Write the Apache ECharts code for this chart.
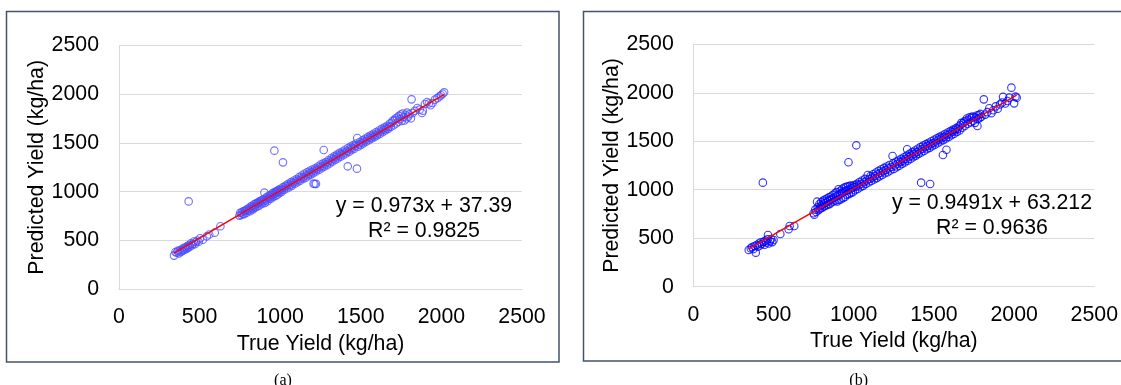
<!DOCTYPE html>
<html>
<head>
<meta charset="utf-8">
<script src="https://cdn.jsdelivr.net/npm/echarts@6/dist/echarts.min.js"></script>
<style>
  html, body { margin: 0; padding: 0; background: #ffffff; }
  #chart { width: 1121px; height: 385px; }
</style>
</head>
<body>
<div id="chart"></div>
<script>
// Panel (a): [true yield, predicted yield] in kg/ha
const yieldPairsA = [
  [341,343],[350,380],[358,372],[365,392],[371,366],[377,398],[383,381],[389,404],[394,392],[399,421],
  [404,400],[409,418],[414,429],[419,410],[424,441],[429,425],[435,452],[440,436],[446,470],[452,448],
  [458,462],[465,488],[471,460],[478,481],[486,498],[495,486],[503,521],[520,506],[545,541],[560,560],
  [594,579],[629,644],[432,900],
  [747,754],[752,782],[758,760],[763,790],[768,772],[773,801],[777,768],[782,798],[787,812],[791,784],
  [796,822],[800,801],[805,830],[809,812],[813,798],[817,846],[821,827],[826,855],[830,818],[834,842],
  [838,870],[842,833],[846,858],[850,880],[854,846],[858,875],[862,890],[866,852],[870,884],[874,903],
  [878,868],[882,895],[886,912],[890,878],[894,922],[898,902],[902,990],[905,885],[909,930],[913,912],
  [917,945],[921,902],[925,938],[929,958],[933,925],[937,948],[941,968],[945,930],[949,962],[953,985],
  [957,948],[961,972],[964,1421],[966,995],[970,955],[974,990],[978,1005],[982,968],[986,1000],[990,1018],
  [994,985],[998,1012],
  [1003,1030],[1008,998],[1012,1022],[1017,1301],[1018,1046],[1023,1018],[1028,1040],[1034,1062],[1040,1032],[1045,1058],
  [1050,1080],[1056,1045],[1062,1072],[1068,1098],[1073,1062],[1079,1088],[1085,1115],[1090,1082],[1096,1104],[1102,1130],
  [1107,1096],[1112,1120],[1118,1150],[1123,1112],[1129,1138],[1134,1166],[1140,1130],[1145,1152],[1150,1184],[1156,1140],
  [1161,1168],[1167,1198],[1172,1158],[1178,1185],[1183,1215],[1189,1175],[1194,1200],[1200,1228],[1207,1082],[1214,1078],
  [1222,1080],[1205,1190],[1211,1218],[1217,1240],[1222,1208],[1228,1232],[1234,1258],[1239,1222],[1245,1250],[1251,1278],
  [1256,1240],[1262,1265],[1267,1290],[1270,1428],[1273,1255],[1278,1282],[1284,1305],[1290,1272],[1295,1300],
  [1301,1325],[1307,1290],[1312,1318],[1318,1345],[1323,1308],[1329,1335],[1335,1362],[1340,1326],[1346,1352],[1352,1380],
  [1357,1340],[1363,1370],[1369,1398],[1374,1358],[1380,1385],[1386,1412],[1391,1375],[1397,1402],[1403,1430],[1408,1392],
  [1414,1418],[1419,1260],[1420,1448],[1425,1408],[1431,1435],[1437,1462],[1442,1425],[1448,1450],[1454,1478],[1459,1440],
  [1465,1468],[1471,1495],[1476,1236],[1478,1551],[1482,1462],[1488,1486],[1494,1510],[1499,1478],[1505,1502],[1511,1528],
  [1516,1495],[1522,1518],[1528,1545],[1533,1512],[1539,1535],[1545,1562],[1550,1528],[1556,1552],[1562,1578],[1567,1545],
  [1573,1568],[1579,1595],[1584,1560],[1590,1585],[1596,1612],[1601,1578],[1607,1600],[1613,1628],[1618,1592],[1624,1618],
  [1630,1645],[1635,1610],[1641,1634],[1647,1660],[1652,1628],[1658,1650],[1664,1676],[1669,1645],[1675,1668],[1681,1700],
  [1686,1665],[1692,1708],[1698,1728],[1703,1682],[1709,1735],[1715,1752],[1720,1700],[1726,1762],[1732,1718],[1737,1778],
  [1743,1745],[1749,1792],[1754,1725],[1760,1802],[1766,1768],[1771,1730],[1777,1790],[1783,1752],[1788,1812],[1794,1770],
  [1800,1795],
  [1811,1753],[1815,1948],[1822,1808],[1835,1830],[1851,1859],[1865,1842],[1880,1808],[1885,1832],[1898,1900],[1911,1921],
  [1922,1905],[1933,1887],[1945,1910],[1960,1945],[1975,1960],[1988,1978],[1998,1990],[2008,2005],[2017,2020]
];

// Panel (b): [true yield, predicted yield] in kg/ha
const yieldPairsB = [
  [345,379],[358,395],[366,410],[374,388],[382,420],[389,351],[395,430],[402,412],[408,445],[414,425],
  [420,458],[426,440],[433,1073],[438,462],[444,432],[450,475],[456,455],[462,490],[465,533],[470,445],
  [477,470],[485,492],[492,460],[500,482],[542,543],[594,592],[600,626],[629,626],
  [749,757],[754,742],[760,795],[765,770],[771,877],[775,820],[780,790],[785,850],[789,805],[793,830],
  [797,872],[801,812],[805,845],[809,888],[813,825],[817,860],[821,900],[825,835],[829,870],[833,910],
  [837,845],[841,885],[845,922],[849,852],[853,895],[857,930],[861,868],[865,905],[869,945],[873,878],
  [877,918],[881,962],[885,890],[889,930],[893,975],[897,880],[901,942],[905,1005],[909,895],[913,955],
  [917,990],[921,902],[925,965],[929,1010],[933,915],[937,978],[941,1022],[945,925],[949,988],[953,1030],
  [957,948],[961,995],[965,1035],[967,1283],[970,955],[974,1000],[978,1042],[982,968],[986,1015],[990,1038],
  [994,975],[998,1025],
  [1003,1048],[1008,995],[1013,1030],[1016,1458],[1019,1060],[1024,1008],[1030,1045],[1036,1080],[1041,1025],[1047,1062],
  [1053,1095],[1058,1040],[1064,1078],[1070,1112],[1075,1060],[1081,1095],[1087,1152],[1092,1075],[1098,1110],[1104,1140],
  [1109,1090],[1115,1125],[1121,1160],[1126,1105],[1132,1142],[1138,1178],[1143,1120],[1149,1160],[1155,1195],[1160,1138],
  [1166,1175],[1172,1212],[1177,1152],[1183,1190],[1189,1225],[1194,1170],[1200,1205],[1206,1240],[1211,1180],[1217,1220],
  [1223,1255],[1228,1198],[1234,1235],[1242,1348],[1245,1270],[1250,1215],[1256,1250],[1262,1288],[1267,1232],[1273,1268],
  [1279,1300],[1284,1248],[1290,1285],[1296,1318],
  [1301,1265],[1307,1300],[1313,1335],[1318,1282],[1324,1318],[1330,1352],[1333,1417],[1336,1300],[1342,1335],[1348,1370],
  [1353,1318],[1359,1352],[1365,1388],[1370,1335],[1376,1370],[1382,1405],[1387,1352],[1393,1388],[1399,1422],[1404,1370],
  [1410,1405],[1416,1440],[1420,1073],[1421,1385],[1427,1420],[1433,1455],[1438,1400],[1444,1438],[1450,1470],[1455,1418],
  [1461,1452],[1467,1485],[1472,1432],[1476,1059],[1478,1468],[1484,1500],[1489,1448],[1495,1482],[1501,1515],[1506,1465],
  [1512,1498],[1518,1530],[1523,1480],[1529,1515],[1535,1545],[1540,1498],[1546,1530],[1552,1560],[1556,1358],[1558,1512],
  [1563,1545],[1569,1575],[1575,1528],[1578,1413],[1580,1562],[1586,1590],[1592,1545],[1597,1578],[1603,1605],[1609,1562],
  [1614,1595],[1620,1620],[1626,1578],[1631,1612],[1637,1635],[1643,1595],[1648,1628],[1654,1652],[1660,1612],[1665,1668],
  [1671,1690],[1677,1640],[1682,1685],[1688,1702],[1694,1660],[1699,1712],[1705,1735],[1711,1680],[1716,1722],[1722,1748],
  [1728,1695],[1733,1740],[1739,1755],[1745,1712],[1750,1750],[1756,1690],[1762,1745],[1767,1765],[1771,1657],[1773,1728],
  [1779,1770],[1785,1740],[1790,1782],[1796,1752],
  [1811,1932],[1820,1775],[1832,1800],[1845,1840],[1858,1790],[1870,1820],[1885,1860],[1898,1835],[1912,1880],[1925,1900],
  [1931,1958],[1945,1890],[1958,1915],[1970,1950],[1983,2053],[2000,1891],[2008,1960],[2016,1950]
];

// Linear fits: slope, intercept, R², and x-range of the drawn trend line
const fitA = { slope: 0.973, intercept: 37.39, r2: '0.9825', x0: 341, x1: 2017 };
const fitB = { slope: 0.9491, intercept: 63.212, r2: '0.9636', x0: 345, x1: 2016 };

const axisTitleX = 'True Yield (kg/ha)';
const axisTitleY = 'Predicted Yield (kg/ha)';
const panelCaptions = ['(a)', '(b)'];

const FONT = "'Liberation Sans', Arial, sans-serif";
const FS = 21.3;
const GRID_COLOR = '#d9d9d9';

function fitLine(f) {
  return [[f.x0, f.slope * f.x0 + f.intercept], [f.x1, f.slope * f.x1 + f.intercept]];
}
function eqText(f) {
  return 'y = ' + f.slope + 'x + ' + f.intercept + '\nR\u00b2 = ' + f.r2;
}
const plainNumber = v => String(v);

function xAxisFor(i, gap) {
  return {
    gridIndex: i, type: 'value', min: 0, max: 2500, interval: 500,
    name: axisTitleX, nameLocation: 'middle', nameGap: gap,
    nameTextStyle: { fontFamily: FONT, fontSize: FS, color: '#000' },
    axisLine: { show: true, lineStyle: { color: GRID_COLOR, width: 1 } },
    axisTick: { show: false },
    splitLine: { show: false },
    axisLabel: { fontFamily: FONT, fontSize: FS, color: '#000', margin: 18, formatter: plainNumber }
  };
}
function yAxisFor(i, gap, margin) {
  return {
    gridIndex: i, type: 'value', min: 0, max: 2500, interval: 500,
    name: axisTitleY, nameLocation: 'middle', nameGap: gap,
    nameTextStyle: { fontFamily: FONT, fontSize: FS, color: '#000' },
    axisLine: { show: true, lineStyle: { color: GRID_COLOR, width: 1 } },
    axisTick: { show: false },
    splitLine: { show: true, lineStyle: { color: GRID_COLOR, width: 1 } },
    axisLabel: { fontFamily: FONT, fontSize: FS, color: '#000', margin: margin, formatter: plainNumber }
  };
}
function scatterFor(i, data, color) {
  return {
    type: 'scatter', xAxisIndex: i, yAxisIndex: i, data: data,
    symbol: 'circle', symbolSize: 7.5,
    itemStyle: { color: 'transparent', borderColor: color, borderWidth: 1.1 },
    silent: true, z: 2
  };
}
function trendFor(i, f) {
  return {
    type: 'line', xAxisIndex: i, yAxisIndex: i, data: fitLine(f),
    symbol: 'none', lineStyle: { color: '#ff0000', width: 1.5 },
    silent: true, z: 3
  };
}

const chart = echarts.init(document.getElementById('chart'), null, { renderer: 'canvas' });

chart.setOption({
  animation: false,
  backgroundColor: '#ffffff',
  grid: [
    { left: 119, top: 45.6, width: 403, height: 243.4 },
    { left: 693.4, top: 44.3, width: 402.2, height: 242.4 }
  ],
  xAxis: [xAxisFor(0, 45), xAxisFor(1, 43)],
  yAxis: [yAxisFor(0, 68, 20), yAxisFor(1, 67, 19.6)],
  series: [
    scatterFor(0, yieldPairsA, '#4b4bff'),
    trendFor(0, fitA),
    scatterFor(1, yieldPairsB, '#0000ff'),
    trendFor(1, fitB)
  ],
  graphic: [
    // panel frames
    { type: 'rect', shape: { x: 6.5, y: 11.5, width: 552.5, height: 350.5 },
      style: { fill: 'none', stroke: '#44546a', lineWidth: 1.5 }, silent: true },
    { type: 'rect', shape: { x: 583.5, y: 11.5, width: 560, height: 349.5 },
      style: { fill: 'none', stroke: '#44546a', lineWidth: 1.5 }, silent: true },
    // fit equations
    { type: 'text', x: 424, y: 218.5, z: 10, silent: true,
      style: { text: eqText(fitA), fill: '#000', font: FS + 'px ' + FONT, textAlign: 'center', textVerticalAlign: 'middle', lineHeight: 25 } },
    { type: 'text', x: 992, y: 215.5, z: 10, silent: true,
      style: { text: eqText(fitB), fill: '#000', font: FS + 'px ' + FONT, textAlign: 'center', textVerticalAlign: 'middle', lineHeight: 25 } },
    // panel captions
    { type: 'text', x: 283, y: 381, silent: true,
      style: { text: panelCaptions[0], fill: '#000', font: "16px 'Liberation Serif', 'Times New Roman', serif", textAlign: 'center', textVerticalAlign: 'middle' } },
    { type: 'text', x: 858.7, y: 381, silent: true,
      style: { text: panelCaptions[1], fill: '#000', font: "16px 'Liberation Serif', 'Times New Roman', serif", textAlign: 'center', textVerticalAlign: 'middle' } }
  ]
});
</script>
</body>
</html>
